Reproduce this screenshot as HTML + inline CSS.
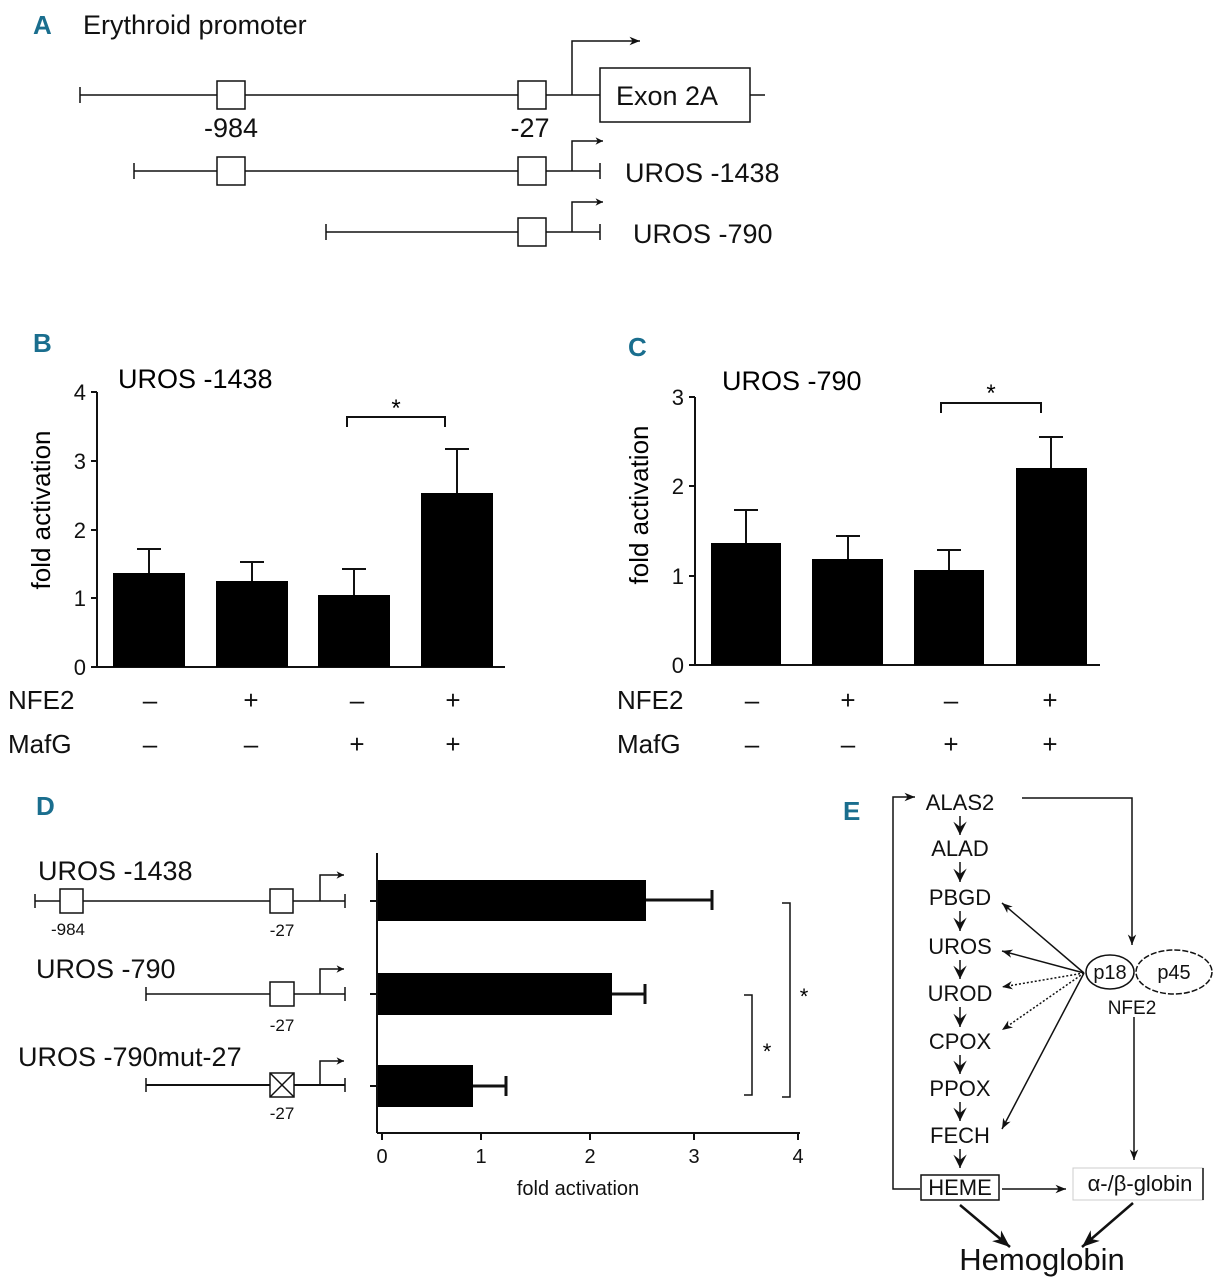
<!DOCTYPE html>
<html><head><meta charset="utf-8"><style>
html,body{margin:0;padding:0;background:#fff;}
svg{display:block;font-family:"Liberation Sans Narrow","Liberation Sans",sans-serif;}
</style></head><body>
<svg width="1223" height="1280" viewBox="0 0 1223 1280" xmlns="http://www.w3.org/2000/svg">
<defs>
<marker id="ah" viewBox="0 0 10 10" refX="10" refY="5" markerWidth="7" markerHeight="7" orient="auto"><path d="M0,1 L10,5 L0,9 L3,5z" fill="#111"/></marker>
<marker id="ahb" viewBox="0 0 10 10" refX="10" refY="5" markerWidth="5" markerHeight="5" orient="auto"><path d="M0,0 L10,5 L0,10 L3,5z" fill="#111"/></marker>
<marker id="ahv" viewBox="0 0 10 10" refX="10" refY="5" markerWidth="9" markerHeight="9" orient="auto"><path d="M0,0 L10,5 L0,10 L4,5z" fill="#111"/></marker>
</defs>
<g fill="#1a6e8e" font-weight="bold" font-size="26" font-family="Liberation Sans, sans-serif">
<text x="33" y="34">A</text><text x="33" y="352">B</text><text x="628" y="356">C</text><text x="36" y="815">D</text><text x="843" y="820">E</text>
</g>
<g stroke="#111" stroke-width="1.5" fill="none">
<line x1="80" y1="95" x2="765" y2="95"/><line x1="80" y1="87" x2="80" y2="103"/>
<rect x="217" y="81" width="28" height="28" fill="#fff"/><rect x="518" y="81" width="28" height="28" fill="#fff"/>
<polyline points="572,95 572,41 640,41" marker-end="url(#ah)"/>
<rect x="600" y="68" width="150" height="54" fill="#fff"/>
<line x1="134" y1="171" x2="600" y2="171"/><line x1="134" y1="163" x2="134" y2="179"/><line x1="600" y1="163" x2="600" y2="179"/>
<rect x="217" y="157" width="28" height="28" fill="#fff"/><rect x="518" y="157" width="28" height="28" fill="#fff"/>
<polyline points="572,171 572,141 603,141" marker-end="url(#ahb)"/>
<line x1="326" y1="232" x2="600" y2="232"/><line x1="326" y1="224" x2="326" y2="240"/><line x1="600" y1="224" x2="600" y2="240"/>
<rect x="518" y="218" width="28" height="28" fill="#fff"/>
<polyline points="572,232 572,202 603,202" marker-end="url(#ahb)"/>
</g>
<g font-size="27" fill="#111">
<text x="83" y="34">Erythroid promoter</text>
<text x="231" y="137" text-anchor="middle">-984</text><text x="530" y="137" text-anchor="middle">-27</text>
<text x="667" y="105" text-anchor="middle">Exon 2A</text>
<text x="625" y="182">UROS -1438</text><text x="633" y="243">UROS -790</text>
</g>
<g stroke="#111" stroke-width="2" fill="none">
<line x1="97" y1="392" x2="97" y2="667"/><line x1="97" y1="667" x2="505" y2="667"/>
<line x1="91" y1="392" x2="97" y2="392"/><line x1="91" y1="461" x2="97" y2="461"/><line x1="91" y1="530" x2="97" y2="530"/><line x1="91" y1="598" x2="97" y2="598"/><line x1="91" y1="667" x2="97" y2="667"/>
<path d="M149,573V549M137,549H161 M252,581V562M240,562H264 M354,595V569M342,569H366 M457,493V449M445,449H469"/>
<polyline points="347,427 347,417 445,417 445,427"/>
</g>
<g fill="#000"><rect x="113" y="573" width="72" height="94"/><rect x="216" y="581" width="72" height="86"/><rect x="318" y="595" width="72" height="72"/><rect x="421" y="493" width="72" height="174"/></g>
<g font-size="22" fill="#111" text-anchor="end">
<text x="86" y="400">4</text><text x="86" y="469">3</text><text x="86" y="538">2</text><text x="86" y="606">1</text><text x="86" y="675">0</text>
</g>
<text x="396" y="416" font-size="24" text-anchor="middle">*</text>
<text x="118" y="388" font-size="27">UROS -1438</text>
<text transform="translate(50,510) rotate(-90)" font-size="26" text-anchor="middle">fold activation</text>
<g font-size="26" fill="#111">
<text x="8" y="709">NFE2</text><text x="8" y="753">MafG</text>
<g text-anchor="middle"><text x="150" y="709">–</text><text x="251" y="709">+</text><text x="357" y="709">–</text><text x="453" y="709">+</text>
<text x="150" y="753">–</text><text x="251" y="753">–</text><text x="357" y="753">+</text><text x="453" y="753">+</text></g>
</g>
<g stroke="#111" stroke-width="2" fill="none">
<line x1="695" y1="397" x2="695" y2="665"/><line x1="695" y1="665" x2="1100" y2="665"/>
<line x1="689" y1="397" x2="695" y2="397"/><line x1="689" y1="486" x2="695" y2="486"/><line x1="689" y1="576" x2="695" y2="576"/><line x1="689" y1="665" x2="695" y2="665"/>
<path d="M746,543V510M734,510H758 M848,559V536M836,536H860 M949,570V550M937,550H961 M1051,468V437M1039,437H1063"/>
<polyline points="941,413 941,403 1041,403 1041,413"/>
</g>
<g fill="#000"><rect x="711" y="543" width="70" height="122"/><rect x="812" y="559" width="71" height="106"/><rect x="914" y="570" width="70" height="95"/><rect x="1016" y="468" width="71" height="197"/></g>
<g font-size="22" fill="#111" text-anchor="end">
<text x="684" y="405">3</text><text x="684" y="494">2</text><text x="684" y="584">1</text><text x="684" y="673">0</text>
</g>
<text x="991" y="401" font-size="24" text-anchor="middle">*</text>
<text x="722" y="390" font-size="27">UROS -790</text>
<text transform="translate(648,505) rotate(-90)" font-size="26" text-anchor="middle">fold activation</text>
<g font-size="26" fill="#111">
<text x="617" y="709">NFE2</text><text x="617" y="753">MafG</text>
<g text-anchor="middle"><text x="752" y="709">–</text><text x="848" y="709">+</text><text x="951" y="709">–</text><text x="1050" y="709">+</text>
<text x="752" y="753">–</text><text x="848" y="753">–</text><text x="951" y="753">+</text><text x="1050" y="753">+</text></g>
</g>
<g stroke="#111" stroke-width="1.5" fill="none">
<line x1="35" y1="901" x2="345" y2="901"/><line x1="35" y1="894" x2="35" y2="908"/><line x1="345" y1="894" x2="345" y2="908"/>
<rect x="60" y="889" width="23" height="24" fill="#fff"/><rect x="270" y="889" width="23" height="24" fill="#fff"/>
<polyline points="320,901 320,875 344,875" marker-end="url(#ahb)"/>
<line x1="146" y1="994" x2="345" y2="994"/><line x1="146" y1="987" x2="146" y2="1001"/><line x1="345" y1="987" x2="345" y2="1001"/>
<rect x="270" y="982" width="24" height="24" fill="#fff"/>
<polyline points="320,994 320,969 344,969" marker-end="url(#ahb)"/>
<line x1="146" y1="1085" x2="345" y2="1085" stroke-width="2"/><line x1="146" y1="1078" x2="146" y2="1092"/><line x1="345" y1="1078" x2="345" y2="1092"/>
<rect x="270" y="1073" width="24" height="24" fill="#fff"/><path d="M270,1073L294,1097M294,1073L270,1097"/>
<polyline points="320,1085 320,1061 344,1061" marker-end="url(#ahb)"/>
</g>
<g font-size="27" fill="#111"><text x="38" y="880">UROS -1438</text><text x="36" y="978">UROS -790</text><text x="18" y="1066">UROS -790mut-27</text></g>
<g font-size="17" fill="#111" text-anchor="middle"><text x="68" y="935">-984</text><text x="282" y="936">-27</text><text x="282" y="1031">-27</text><text x="282" y="1119">-27</text></g>
<g stroke="#111" stroke-width="2" fill="none">
<line x1="377" y1="853" x2="377" y2="1133"/><line x1="377" y1="1133" x2="800" y2="1133"/>
<path d="M370,901H377M370,994H377M370,1086H377"/>
<path d="M382,1133V1140M481,1133V1140M590,1133V1140M694,1133V1140M798,1133V1140"/>
<path d="M646,900H712M712,890V910 M612,994H645M645,984V1004 M473,1086H506M506,1076V1096" stroke-width="3"/>
<polyline points="782,903 790,903 790,1097 782,1097" stroke-width="1.5"/>
<polyline points="744,995 752,995 752,1095 744,1095" stroke-width="1.5"/>
</g>
<g fill="#000"><rect x="378" y="880" width="268" height="41"/><rect x="378" y="973" width="234" height="42"/><rect x="378" y="1065" width="95" height="42"/></g>
<g font-size="20" fill="#111" text-anchor="middle"><text x="382" y="1163">0</text><text x="481" y="1163">1</text><text x="590" y="1163">2</text><text x="694" y="1163">3</text><text x="798" y="1163">4</text>
<text x="578" y="1195">fold activation</text></g>
<text x="804" y="1004" font-size="22" text-anchor="middle">*</text>
<text x="767" y="1059" font-size="22" text-anchor="middle">*</text>
<g font-size="22" fill="#111" text-anchor="middle">
<text x="960" y="810">ALAS2</text><text x="960" y="856">ALAD</text><text x="960" y="905">PBGD</text><text x="960" y="954">UROS</text><text x="960" y="1001">UROD</text><text x="960" y="1049">CPOX</text><text x="960" y="1096">PPOX</text><text x="960" y="1143">FECH</text><text x="960" y="1195">HEME</text>
<text x="1110" y="979" font-size="20">p18</text><text x="1174" y="979" font-size="20">p45</text>
<text x="1132" y="1014" font-size="19">NFE2</text>
<text x="1140" y="1191">α-/β-globin</text>
<text x="1042" y="1270" font-size="31">Hemoglobin</text>
</g>
<g stroke="#111" stroke-width="1.5" fill="none">
<line x1="960" y1="816" x2="960" y2="835" marker-end="url(#ahv)"/>
<line x1="960" y1="862" x2="960" y2="882" marker-end="url(#ahv)"/>
<line x1="960" y1="911" x2="960" y2="931" marker-end="url(#ahv)"/>
<line x1="960" y1="960" x2="960" y2="979" marker-end="url(#ahv)"/>
<line x1="960" y1="1007" x2="960" y2="1027" marker-end="url(#ahv)"/>
<line x1="960" y1="1055" x2="960" y2="1074" marker-end="url(#ahv)"/>
<line x1="960" y1="1102" x2="960" y2="1121" marker-end="url(#ahv)"/>
<line x1="960" y1="1149" x2="960" y2="1168" marker-end="url(#ahv)"/>
<rect x="921" y="1175" width="78" height="25"/>
<rect x="1073" y="1168" width="130" height="32" stroke="#ccc" stroke-width="1"/><line x1="1203" y1="1168" x2="1203" y2="1200"/>
<polyline points="920,1189 893,1189 893,797 915,797" marker-end="url(#ah)"/>
<polyline points="1022,798 1132,798 1132,945" marker-end="url(#ah)"/>
<ellipse cx="1110" cy="972" rx="24" ry="17"/>
<ellipse cx="1174" cy="972" rx="38" ry="22" stroke-dasharray="6,2"/>
<line x1="1084" y1="973" x2="1002" y2="903" marker-end="url(#ah)"/>
<line x1="1084" y1="973" x2="1002" y2="951" marker-end="url(#ah)"/>
<line x1="1084" y1="973" x2="1002" y2="987" stroke-dasharray="2,2" marker-end="url(#ah)"/>
<line x1="1084" y1="973" x2="1002" y2="1030" stroke-dasharray="2,2" marker-end="url(#ah)"/>
<line x1="1084" y1="973" x2="1002" y2="1129" marker-end="url(#ah)"/>
<line x1="1134" y1="1017" x2="1134" y2="1160" marker-end="url(#ah)"/>
<line x1="1002" y1="1189" x2="1066" y2="1189" marker-end="url(#ah)"/>
<line x1="960" y1="1205" x2="1010" y2="1247" stroke-width="2.5" marker-end="url(#ah)"/>
<line x1="1133" y1="1203" x2="1082" y2="1247" stroke-width="2.5" marker-end="url(#ah)"/>
</g>
</svg>
</body></html>
